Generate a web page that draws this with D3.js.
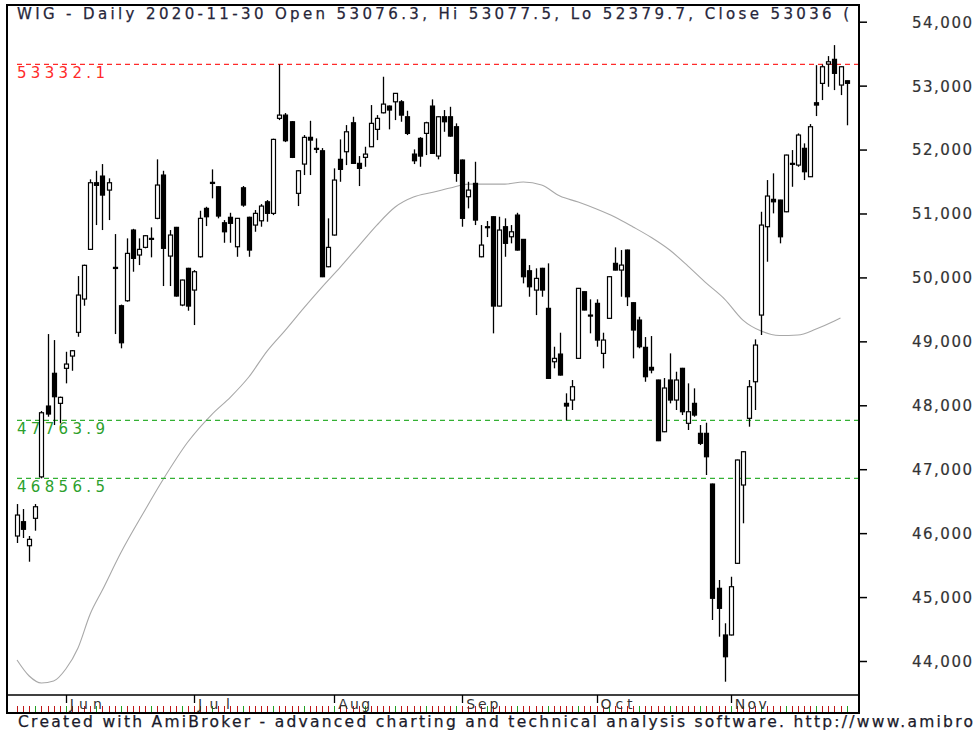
<!DOCTYPE html>
<html><head><meta charset="utf-8">
<script src="https://cdn.jsdelivr.net/npm/d3@7"></script>
<style>body{margin:0;background:#fff}svg{display:block}</style>
</head><body><svg id="c" width="976" height="730"></svg>
<script>
const holidays = ["2020-06-11","2020-11-11"];
const open  = [45955,46179,45803,46232,46880,47988,48500,48030,48578,48770,49141,49662,50439,51481,51585,51366,50157,49557,49635,50741,50350,50470,50611,50924,51601,50334,50783,49568,50142,49802,50323,51080,51487,51418,50855,50940,50480,51402,50940,50819,50886,51183,51002,52488,52539,52435,51315,51773,52191,52019,51981,50167,50663,51847,51966,52419,51784,51878,52044,52316,52575,52680,52747,52747,52513,51929,52175,52253,52680,51898,52513,52513,52357,51836,51262,51471,50323,50793,50949,49552,50793,50636,50975,50595,50104,49802,50142,49516,48681,48801,48030,48082,48734,49776,49411,49594,48812,49360,50220,50115,50428,49604,49333,48906,48593,48395,47586,48395,48082,48578,47718,48030,47561,47561,46768,45137,44407,44407,45528,46753,47796,48368,49411,50793,51221,51210,51027,51784,51757,52019,51575,52732,53035,53337,53411,53009,53076.3];
const high  = [46455,46377,45955,46455,47910,49114,49020,48135,48837,48864,50021,50200,51534,51668,51773,51550,50678,49575,50611,50760,50611,50664,50783,51847,51668,50741,50790,49965,50150,50115,51043,51105,51690,51425,50897,51011,50930,51430,50950,51054,51147,51210,52170,53332.1,52571,52446,51679,52227,52450,52175,52023,50924,51706,52159,52383,52513,51898,52044,52696,52539,53139,52690,52885,52774,52607,52003,52195,52435,52785,52520,52618,52669,52410,51845,51496,51809,50819,50882,50955,50949,50924,50819,51011,50600,50193,50142,50150,50220,48916,49135,48187,48395,49835,49780,49657,49657,49135,50020,50470,50428,50435,49610,49385,49067,49083,48400,48426,48812,48525,48585,48343,48265,47691,47727,46775,45267,44590,45318,47150,47280,48395,49031,51027,51523,51628,51215,51920,51992,52253,52097,52399,53320,53330,53462,53634,53300,53077.5];
const low   = [45846,45924,45553,46038,46856.5,47821,47691,47718,48343,48540,49072,49557,50430,50819,50741,50897,49114,48891,49620,50089,50193,50455,50314,50910,49865,49865,49700,49550,49479,49255,50310,50803,51237,50924,50542,50542,50323,51105,50323,50714,50793,50871,50975,52461,52117,51867,51116,51601,51601,51945,50005,50160,50655,51496,51757,51775,51429,51731,52040,52148,52566,52316,52461,52435,52227,51773,51731,51914,51935,51847,52278,52200,51496,50793,51080,50819,50315,50631,49125,49545,50323,50533,50420,49907,49698,49411,49698,48415,48578,48465,47763.9,47926,48725,49485,49125,48916,48578,49355,50110,49698,49552,48734,48891,48368,48500,47440,47580,48030,47926,47847,47613,47821,47378,46909,44641,44380,43676,44400,45520,46154,47665,47926,49099,50245,51002,50533,51020,51418,51731,51523,51570,52524,52774,52982,52930,52852,52379.7];
const close = [46283,46060,45903,46413,47883,47863,48134,48124,48645,48853,49724,50189,51481,51440,51288,51481,50140,48978,50376,50298,50439,50652,50600,51445,50455,50663,49709,49959,49552,50089,50924,50949,51470,50960,50714,50846,50924,51132,50428,51002,51116,51002,52159,52539,52138,51878,51668,52191,52148,52008,50011,50470,51523,51690,52278,51784,51706,51929,52410,52488,52711,52618,52879,52539,52253,51825,51898,52419,51940,52513,52435,52211,51628,50924,51366,50897,50506,50780,49552,50741,50533,50714,50428,50011,49854,49985,49802,48421,48734,48473,47988,48290,49829,49490,49400,49020,49020,50011,50115,50193,49698,49177,48916,48447,48551,47446,48270,48082,48395,47899,47899,47847,47405,47195,44981,44824,44067,45162,47144,47273,48290,48942,50819,51273,51183,50636,51914,51770,52227,51653,52357,52696,53295,53373,53192,53295,53036];
const maIndex = [0,2,4,6,8,10,12,14,17,21,24,28,32,35,38,41,44,47,50,53,56,59,62,65,68,71,74,77,80,83,86,89,92,95,98,101,104,107,110,113,116,119,122,125,128,131,134,135];
const maValue = [44016,43765,43656,43687,43875,44203,44735,45110,45689,46362,46846,47425,47863,48129,48442,48848,49177,49521,49850,50162,50491,50819,51101,51257,51328,51398,51460,51460,51460,51492,51445,51273,51179,51070,50945,50790,50624,50428,50178,49912,49662,49333,49161,49091,49099,49193,49318,49365];
const yTicks = [44000,45000,46000,47000,48000,49000,50000,51000,52000,53000,54000];
const redLevels = [53332.1];
const greenLevels = [47763.9, 46856.5];
const title = "WIG - Daily 2020-11-30 Open 53076.3, Hi 53077.5, Lo 52379.7, Close 53036 (";
const footer = "Created with AmiBroker - advanced charting and technical analysis software. http://www.amibro";

// trading-day calendar
const dates = [];
for (let d = new Date(Date.UTC(2020,4,20)); d <= new Date(Date.UTC(2020,10,30)); d.setUTCDate(d.getUTCDate()+1)) {
  const wd = d.getUTCDay(), s = d.toISOString().slice(0,10);
  if (wd > 0 && wd < 6 && !holidays.includes(s)) dates.push(s);
}
const monthFmt = d3.utcFormat("%b");

const svg = d3.select("#c");
const L = 7, R = 859, T = 5, B = 695, AX = 713;
const x = d3.scaleLinear().domain([0, dates.length - 1]).range([17, 846.6]);
const y = d3.scaleLinear().domain([44000, 54000]).range([661, 21.7]);

svg.append("defs").append("clipPath").attr("id","clip")
  .append("rect").attr("x", L).attr("y", T).attr("width", R - L).attr("height", B - T);

const font = "'DejaVu Sans', Verdana, sans-serif";

// title
svg.append("text").attr("x", 17).attr("y", 19).attr("font-family", font).attr("font-size", 15)
  .attr("fill", "#26263a").attr("stroke", "#26263a").attr("stroke-width", 0.25)
  .attr("textLength", 832).attr("lengthAdjust", "spacing").text(title);

const plot = svg.append("g").attr("clip-path", "url(#clip)");

// MA line
const maData = maIndex.map((i, k) => [i, maValue[k]]);
plot.append("path").datum(maData)
  .attr("fill", "none").attr("stroke", "#a8a8a8").attr("stroke-width", 1.1)
  .attr("d", d3.line().x(d => x(d[0])).y(d => y(d[1])).curve(d3.curveMonotoneX));

// level lines
redLevels.forEach(v => {
  plot.append("line").attr("x1", 17).attr("x2", R).attr("y1", y(v)).attr("y2", y(v))
    .attr("stroke", "#ff2a2a").attr("stroke-width", 1.2).attr("stroke-dasharray", "5,4");
  plot.append("text").attr("x", 17).attr("y", y(v) + 14).attr("font-family", font).attr("font-size", 15)
    .attr("fill", "#ff2a2a").attr("textLength", 88).attr("lengthAdjust","spacing").text(v.toFixed(1));
});
greenLevels.forEach(v => {
  plot.append("line").attr("x1", 17).attr("x2", R).attr("y1", y(v)).attr("y2", y(v))
    .attr("stroke", "#33b033").attr("stroke-width", 1.2).attr("stroke-dasharray", "5,4");
  plot.append("text").attr("x", 17).attr("y", y(v) + 14).attr("font-family", font).attr("font-size", 15)
    .attr("fill", "#2ca02c").attr("textLength", 88).attr("lengthAdjust","spacing").text(v.toFixed(1));
});

// candles
const idx = d3.range(dates.length);
const cg = plot.append("g");
cg.selectAll("line.w").data(idx).join("line").attr("class","w")
  .attr("x1", i => Math.round(x(i)) + 0.5).attr("x2", i => Math.round(x(i)) + 0.5)
  .attr("y1", i => y(high[i])).attr("y2", i => y(low[i]))
  .attr("stroke", "#000").attr("stroke-width", 1.3);
cg.selectAll("rect.b").data(idx).join("rect").attr("class","b")
  .attr("x", i => Math.round(x(i)) - 1.5)
  .attr("width", 4)
  .attr("y", i => y(Math.max(open[i], close[i])))
  .attr("height", i => Math.max(1, Math.abs(y(open[i]) - y(close[i]))))
  .attr("fill", i => close[i] >= open[i] ? "#fff" : "#000")
  .attr("stroke", "#000").attr("stroke-width", 1.2);

// frame
svg.append("rect").attr("x", L).attr("y", T).attr("width", R - L).attr("height", AX - T)
  .attr("fill", "none").attr("stroke", "#000").attr("stroke-width", 2);
svg.append("line").attr("x1", L).attr("x2", R).attr("y1", B).attr("y2", B)
  .attr("stroke", "#000").attr("stroke-width", 1.5);

// y axis (right)
const yAxis = d3.axisRight(y).tickValues(yTicks).tickSize(8).tickFormat(d3.format(","));
const ya = svg.append("g").attr("transform", `translate(${R},0)`).call(yAxis);
ya.select(".domain").remove();
ya.selectAll(".tick line").attr("stroke", "#000").attr("stroke-width", 1.5);
ya.selectAll(".tick text").attr("x", 972 - R).attr("text-anchor", "end").attr("dy", "0.36em")
  .attr("font-family", font).attr("font-size", 15).attr("fill", "#333")
  .attr("stroke", "#333").attr("stroke-width", 0.2)
  .attr("textLength", 60).attr("lengthAdjust", "spacing");

// x axis: day ticks
const dayTicks = svg.append("g");
dayTicks.selectAll("line").data(idx).join("line")
  .attr("x1", i => Math.round(x(i)) + 0.5).attr("x2", i => Math.round(x(i)) + 0.5)
  .attr("y1", 706).attr("y2", 712)
  .attr("stroke", i => new Date(dates[i] + "T00:00:00Z").getUTCDay() === 1 ? "#22a022" : "#c01818")
  .attr("stroke-width", 1);
// month ticks + labels
const monthStarts = idx.filter(i => i > 0 && dates[i].slice(5,7) !== dates[i-1].slice(5,7));
const mg = svg.append("g");
mg.selectAll("line").data(monthStarts).join("line")
  .attr("x1", i => Math.round(x(i)) + 0.5).attr("x2", i => Math.round(x(i)) + 0.5)
  .attr("y1", B).attr("y2", 703).attr("stroke", "#000").attr("stroke-width", 1.3);
mg.selectAll("text").data(monthStarts).join("text")
  .attr("x", i => x(i) + 4).attr("y", 709)
  .attr("font-family", font).attr("font-size", 14).attr("fill", "#333")
  .attr("textLength", 32).attr("lengthAdjust", "spacing")
  .text(i => monthFmt(new Date(dates[i] + "T00:00:00Z")));

// footer
svg.append("text").attr("x", 18).attr("y", 727).attr("font-family", font).attr("font-size", 15.5)
  .attr("fill", "#1a1a2a").attr("stroke", "#1a1a2a").attr("stroke-width", 0.25)
  .attr("textLength", 955).attr("lengthAdjust", "spacing").text(footer);
</script></body></html>
